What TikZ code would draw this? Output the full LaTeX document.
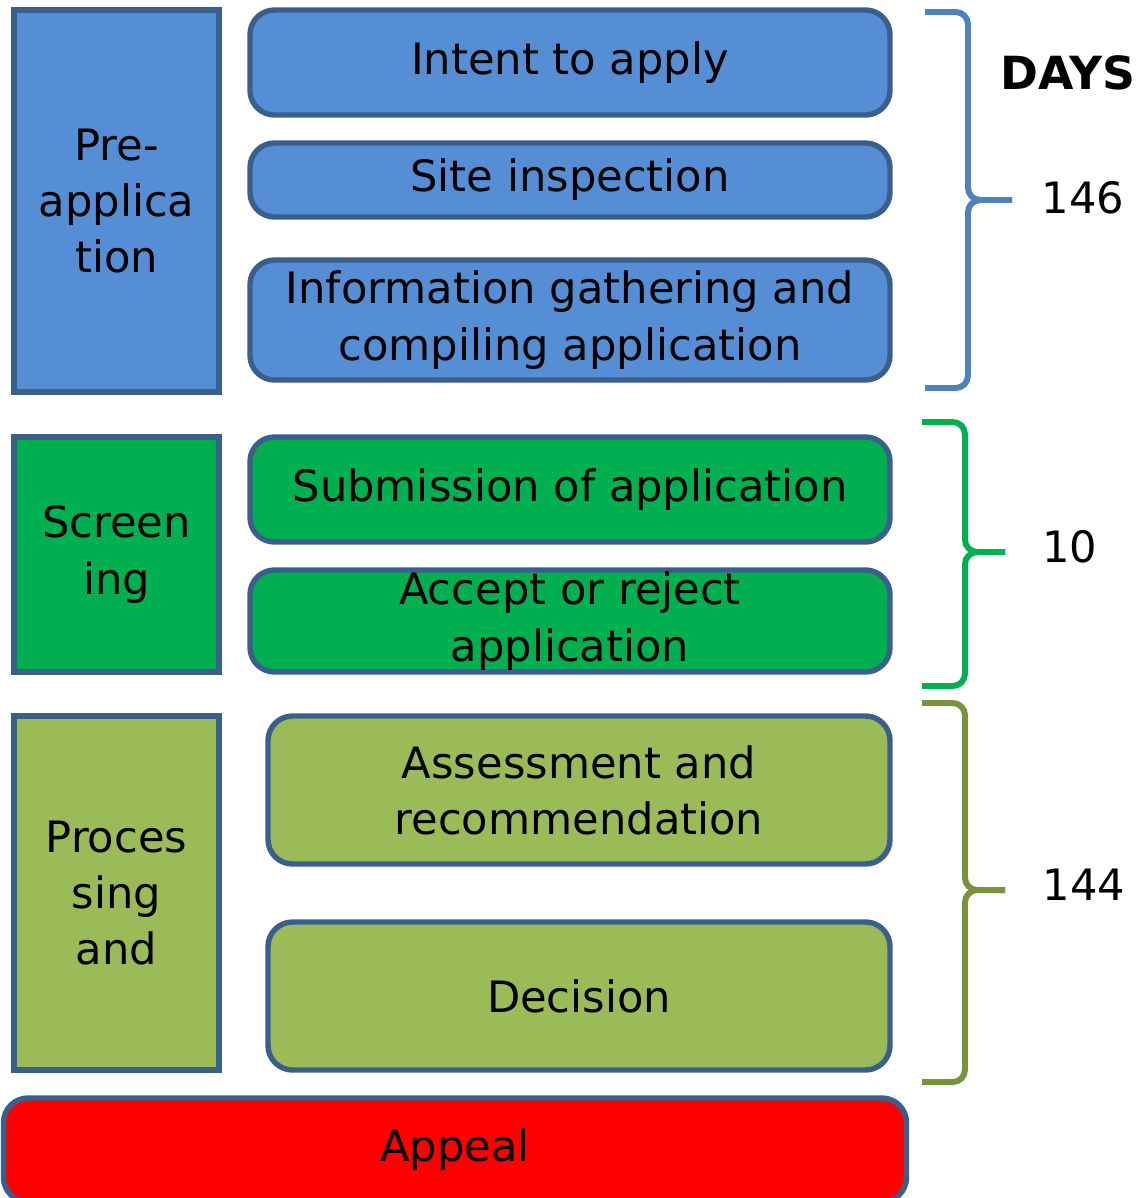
\documentclass[tikz,border=0pt]{standalone}
\usepackage{fontspec}
\setmainfont{DejaVu Sans}

\definecolor{stageblue}{HTML}{558ED5}
\definecolor{stagegreen}{HTML}{00B050}
\definecolor{stageolive}{HTML}{9BBB59}
\definecolor{edgeblue}{HTML}{3B5F8C}
\definecolor{braceblue}{HTML}{4F81BD}
\definecolor{braceolive}{HTML}{77933C}

\begin{document}
\begin{tikzpicture}[x=0.02cm,y=-0.02cm,
	stage/.style={draw=edgeblue,line width=3.1pt,inner sep=0pt,align=center,
		font=\fontsize{24.6}{32}\selectfont},
	task/.style={stage,rounded corners=14pt},
	dayline/.style={line width=3.4pt,rounded corners=7pt},
	daynum/.style={font=\fontsize{24.6}{28}\selectfont}]
	\useasboundingbox (0,0) rectangle (1143,1198);

	% pre-application
	\node [stage,fill=stageblue,minimum width=205*0.02cm,minimum height=382*0.02cm] (pre) at (116.5,201) {Pre-\\applica\\tion};
	\node [task,fill=stageblue,minimum width=640*0.02cm,minimum height=105*0.02cm] (intent) at (570,62.5) {Intent to apply};
	\node [task,fill=stageblue,minimum width=640*0.02cm,minimum height=74*0.02cm] (site) at (570,180) {Site inspection};
	\node [task,fill=stageblue,minimum width=640*0.02cm,minimum height=120*0.02cm] (info) at (570,320) {Information gathering and\\compiling application};

	% screening
	\node [stage,fill=stagegreen,minimum width=205*0.02cm,minimum height=235*0.02cm] (screen) at (116.5,554.5) {Screen\\ing};
	\node [task,fill=stagegreen,minimum width=640*0.02cm,minimum height=105*0.02cm] (submit) at (570,489.5) {Submission of application};
	\node [task,fill=stagegreen,minimum width=640*0.02cm,minimum height=102*0.02cm] (accept) at (570,621) {Accept or reject\\application};

	% processing
	\node [stage,fill=stageolive,minimum width=205*0.02cm,minimum height=354*0.02cm] (proc) at (116.5,893) {Proces\\sing\\and};
	\node [task,fill=stageolive,minimum width=622*0.02cm,minimum height=148*0.02cm] (assess) at (579,790) {Assessment and\\recommendation};
	\node [task,fill=stageolive,minimum width=622*0.02cm,minimum height=148*0.02cm] (decide) at (579,996) {Decision};

	% appeal runs off the bottom edge
	\node [task,fill=red,minimum width=903*0.02cm,minimum height=104*0.02cm] (appeal) at (455,1150) {Appeal};

	% braces with day counts
	\draw [dayline,braceblue] (925,12) -| (968,200) -- (1012,200);
	\draw [dayline,braceblue] (1012,200) -| (968,388) -- (925,388);
	\draw [dayline,stagegreen] (922,422) -| (965,552) -- (1005,552);
	\draw [dayline,stagegreen] (1005,552) -| (965,686) -- (922,686);
	\draw [dayline,braceolive] (922,703) -| (965,890) -- (1005,890);
	\draw [dayline,braceolive] (1005,890) -| (965,1082) -- (922,1082);

	\node [font=\fontsize{26}{28}\selectfont\bfseries] (days) at (1068,73) {DAYS};
	\node [daynum] (d146) at (1083,198) {146};
	\node [daynum] (d10) at (1070,547) {10};
	\node [daynum] (d144) at (1084,885) {144};
\end{tikzpicture}
\end{document}
